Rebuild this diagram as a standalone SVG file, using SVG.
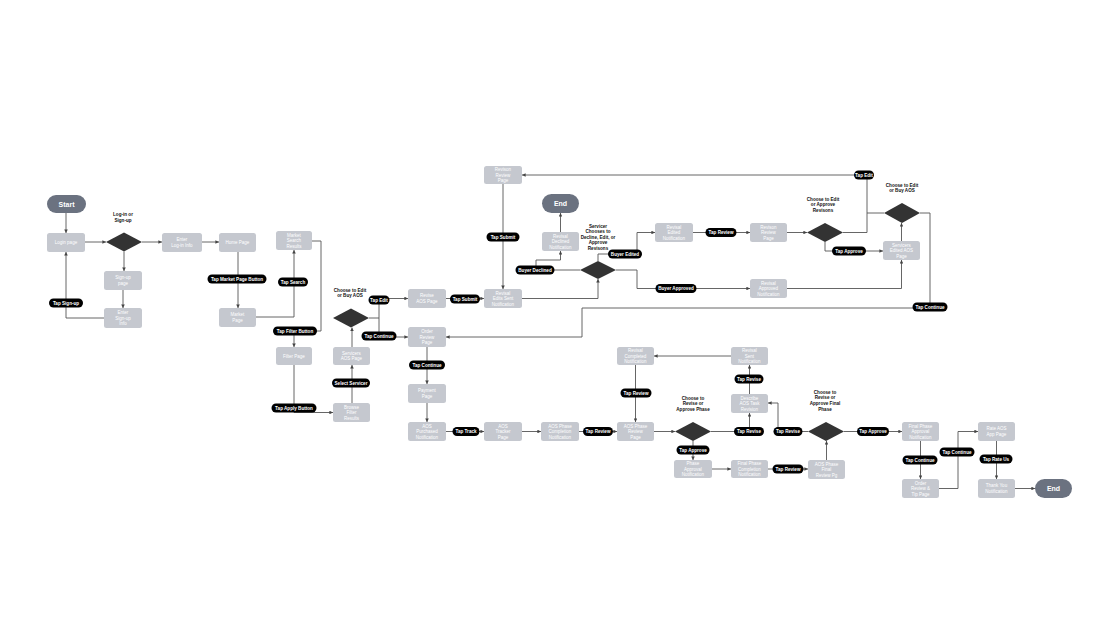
<svg xmlns="http://www.w3.org/2000/svg" width="1120" height="640" viewBox="0 0 1120 640">
<defs>
<marker id="a" viewBox="0 0 6 6" refX="6" refY="3" markerWidth="4" markerHeight="4" orient="auto"><path d="M0,0 L6,3 L0,6 z" fill="#444"/></marker>
<style>
.c{fill:none;stroke:#555;stroke-width:0.9;marker-end:url(#a)}
.cn{fill:none;stroke:#555;stroke-width:0.9}
.n{fill:#c5c8cf;rx:2.5}
.nt{fill:#fff;font-family:"Liberation Sans",Arial,sans-serif;font-size:4.5px;text-anchor:middle}
.p{fill:#000}
.pt{fill:#fff;font-family:"Liberation Sans",Arial,sans-serif;font-size:4.6px;font-weight:bold;text-anchor:middle}
.d{fill:#333}
.lb{fill:#111;font-family:"Liberation Sans",Arial,sans-serif;font-size:4.6px;font-weight:bold;text-anchor:middle}
.t{fill:#6b7280}
.tt{fill:#fff;font-family:"Liberation Sans",Arial,sans-serif;font-size:7px;font-weight:bold;text-anchor:middle}
</style>
</defs>
<rect width="1120" height="640" fill="#fff"/>
<g id="connectors">
<path class="c" d="M66 213 V233"/>
<path class="c" d="M85 242 H106"/>
<path class="c" d="M142 242 H162"/>
<path class="c" d="M124 251.5 V271"/>
<path class="c" d="M123 290 V308"/>
<path class="c" d="M104 318 H66 V252"/>
<path class="c" d="M202 242 H219"/>
<path class="c" d="M238 252 V308"/>
<path class="c" d="M256 317 H294 V250"/>
<path class="c" d="M312 241 H321 V331 H294 V347"/>
<path class="c" d="M294 365 V412.5 H333"/>
<path class="c" d="M352 403 V365"/>
<path class="c" d="M352 347 V327.5"/>
<path class="c" d="M369 318 H379 V298.5 H408"/>
<path class="c" d="M379 318 V337 H408"/>
<path class="c" d="M446 298.5 H484"/>
<path class="c" d="M503 184 V289"/>
<path class="c" d="M522 298.5 H598 V279"/>
<path class="c" d="M580 270 H536 V260 H560.5 V251"/>
<path class="c" d="M560.5 232 V213"/>
<path class="c" d="M598 261 V254 H637 V232.5 H655"/>
<path class="c" d="M616 270 H637 V288.5 H750"/>
<path class="c" d="M693 232.5 H750"/>
<path class="c" d="M787 232.5 H807"/>
<path class="c" d="M843 232.5 H867 V175 H522"/>
<path class="cn" d="M884 213 H867"/>
<path class="c" d="M825 242 V251 H883"/>
<path class="c" d="M787 288.5 H901.5 V260"/>
<path class="c" d="M901.5 241 V223"/>
<path class="c" d="M920 213 H930 V308 H582 V337 H446"/>
<path class="c" d="M427 347 V384"/>
<path class="c" d="M427 403 V422"/>
<path class="c" d="M446 431.5 H484"/>
<path class="c" d="M522 431.5 H541"/>
<path class="c" d="M579 431.5 H617"/>
<path class="c" d="M654 431.5 H675"/>
<path class="c" d="M693 441 V460"/>
<path class="c" d="M712 469 H731"/>
<path class="c" d="M768 469 H808"/>
<path class="c" d="M826.5 460 V441"/>
<path class="c" d="M808 431.5 H778 V403 H768"/>
<path class="c" d="M711 431.5 H749.5 V413"/>
<path class="c" d="M749.5 394 V365"/>
<path class="c" d="M731 356 H654"/>
<path class="c" d="M635.5 365 V422"/>
<path class="c" d="M844 431.5 H902"/>
<path class="c" d="M920.5 441 V479"/>
<path class="c" d="M939 488.5 H958 V431.5 H978"/>
<path class="c" d="M996.5 441 V479"/>
<path class="c" d="M1015 488.5 H1035"/>
</g>
<g id="start"><rect class="t" x="47" y="195" width="39" height="18" rx="9"/><text class="tt" x="66.5" y="206.5">Start</text></g>
<g id="end1"><rect class="t" x="542" y="194" width="37" height="19" rx="9.5"/><text class="tt" x="560.5" y="206">End</text></g>
<g id="end2"><rect class="t" x="1035" y="479" width="37" height="19" rx="9.5"/><text class="tt" x="1053.5" y="491">End</text></g>

<g id="login"><rect class="n" x="47" y="233" width="38" height="19"/><text class="nt" x="66" y="244.1">Login page</text></g>
<g id="enterlogin"><rect class="n" x="162" y="233" width="40" height="19"/><text class="nt"><tspan x="182" y="241.3">Enter</tspan><tspan x="182" y="246.9">Log-in Info</tspan></text></g>
<g id="signup"><rect class="n" x="104" y="271" width="38" height="19"/><text class="nt"><tspan x="123" y="279.3">Sign-up</tspan><tspan x="123" y="284.9">page</tspan></text></g>
<g id="entersignup"><rect class="n" x="104" y="308" width="38" height="20"/><text class="nt"><tspan x="123" y="314">Enter</tspan><tspan x="123" y="319.6">Sign-up</tspan><tspan x="123" y="325.2">Info</tspan></text></g>
<g id="home"><rect class="n" x="219" y="233" width="37" height="19"/><text class="nt" x="237.5" y="244.1">Home Page</text></g>
<g id="marketsearch"><rect class="n" x="276" y="231" width="36" height="19"/><text class="nt"><tspan x="294" y="236.5">Market</tspan><tspan x="294" y="242.1">Search</tspan><tspan x="294" y="247.7">Results</tspan></text></g>
<g id="market"><rect class="n" x="219" y="308" width="37" height="19"/><text class="nt"><tspan x="237.5" y="316.3">Market</tspan><tspan x="237.5" y="321.9">Page</tspan></text></g>
<g id="filter"><rect class="n" x="276" y="347" width="36" height="18"/><text class="nt" x="294" y="357.6">Filter Page</text></g>
<g id="browse"><rect class="n" x="333" y="403" width="37" height="19"/><text class="nt"><tspan x="351.5" y="408.5">Browse</tspan><tspan x="351.5" y="414.1">Filter</tspan><tspan x="351.5" y="419.7">Results</tspan></text></g>
<g id="servicers"><rect class="n" x="333" y="347" width="37" height="18"/><text class="nt"><tspan x="351.5" y="354.8">Servicers</tspan><tspan x="351.5" y="360.4">AOS Page</tspan></text></g>
<g id="reviseaos"><rect class="n" x="408" y="289" width="38" height="19"/><text class="nt"><tspan x="427" y="297.3">Revise</tspan><tspan x="427" y="302.9">AOS Page</tspan></text></g>
<g id="orderreview"><rect class="n" x="408" y="327" width="38" height="20"/><text class="nt"><tspan x="427" y="333">Order</tspan><tspan x="427" y="338.6">Review</tspan><tspan x="427" y="344.2">Page</tspan></text></g>
<g id="payment"><rect class="n" x="408" y="384" width="38" height="19"/><text class="nt"><tspan x="427" y="392.3">Payment</tspan><tspan x="427" y="397.9">Page</tspan></text></g>
<g id="purchased"><rect class="n" x="408" y="422" width="38" height="19"/><text class="nt"><tspan x="427" y="427.5">AOS</tspan><tspan x="427" y="433.1">Purchased</tspan><tspan x="427" y="438.7">Notification</tspan></text></g>
<g id="tracker"><rect class="n" x="484" y="422" width="38" height="19"/><text class="nt"><tspan x="503" y="427.5">AOS</tspan><tspan x="503" y="433.1">Tracker</tspan><tspan x="503" y="438.7">Page</tspan></text></g>
<g id="phasecomp"><rect class="n" x="541" y="422" width="38" height="19"/><text class="nt"><tspan x="560" y="427.5">AOS Phase</tspan><tspan x="560" y="433.1">Completion</tspan><tspan x="560" y="438.7">Notification</tspan></text></g>
<g id="phasereview"><rect class="n" x="617" y="422" width="37" height="19"/><text class="nt"><tspan x="635.5" y="427.5">AOS Phase</tspan><tspan x="635.5" y="433.1">Review</tspan><tspan x="635.5" y="438.7">Page</tspan></text></g>
<g id="revcompleted"><rect class="n" x="617" y="347" width="37" height="18"/><text class="nt"><tspan x="635.5" y="352">Revisal</tspan><tspan x="635.5" y="357.6">Completed</tspan><tspan x="635.5" y="363.2">Notification</tspan></text></g>
<g id="revsent"><rect class="n" x="731" y="347" width="37" height="18"/><text class="nt"><tspan x="749.5" y="352">Revisal</tspan><tspan x="749.5" y="357.6">Sent</tspan><tspan x="749.5" y="363.2">Notification</tspan></text></g>
<g id="describe"><rect class="n" x="731" y="394" width="37" height="19"/><text class="nt"><tspan x="749.5" y="399.5">Describe</tspan><tspan x="749.5" y="405.1">AOS Task</tspan><tspan x="749.5" y="410.7">Revision</tspan></text></g>
<g id="phaseapproval"><rect class="n" x="674" y="460" width="38" height="18"/><text class="nt"><tspan x="693" y="465">Phase</tspan><tspan x="693" y="470.6">Approval</tspan><tspan x="693" y="476.2">Notification</tspan></text></g>
<g id="finalcomp"><rect class="n" x="731" y="460" width="37" height="18"/><text class="nt"><tspan x="749.5" y="465">Final Phase</tspan><tspan x="749.5" y="470.6">Completion</tspan><tspan x="749.5" y="476.2">Notification</tspan></text></g>
<g id="finalreview"><rect class="n" x="808" y="460" width="37" height="19"/><text class="nt"><tspan x="826.5" y="465.5">AOS Phase</tspan><tspan x="826.5" y="471.1">Final</tspan><tspan x="826.5" y="476.7">Review Pg</tspan></text></g>
<g id="finalapproval"><rect class="n" x="902" y="422" width="37" height="19"/><text class="nt"><tspan x="920.5" y="427.5">Final Phase</tspan><tspan x="920.5" y="433.1">Approval</tspan><tspan x="920.5" y="438.7">Notification</tspan></text></g>
<g id="ordertip"><rect class="n" x="902" y="479" width="37" height="19"/><text class="nt"><tspan x="920.5" y="484.5">Order</tspan><tspan x="920.5" y="490.1">Review &amp;</tspan><tspan x="920.5" y="495.7">Tip Page</tspan></text></g>
<g id="rate"><rect class="n" x="978" y="422" width="37" height="19"/><text class="nt"><tspan x="996.5" y="430.3">Rate AOS</tspan><tspan x="996.5" y="435.9">App Page</tspan></text></g>
<g id="thankyou"><rect class="n" x="978" y="479" width="37" height="19"/><text class="nt"><tspan x="996.5" y="487.3">Thank You</tspan><tspan x="996.5" y="492.9">Notification</tspan></text></g>
<g id="revreview1"><rect class="n" x="484" y="166" width="38" height="18"/><text class="nt"><tspan x="503" y="171">Revison</tspan><tspan x="503" y="176.6">Review</tspan><tspan x="503" y="182.2">Page</tspan></text></g>
<g id="editsent"><rect class="n" x="484" y="289" width="38" height="19"/><text class="nt"><tspan x="503" y="294.5">Revisal</tspan><tspan x="503" y="300.1">Edits Sent</tspan><tspan x="503" y="305.7">Notification</tspan></text></g>
<g id="declined"><rect class="n" x="542" y="232" width="37" height="19"/><text class="nt"><tspan x="560.5" y="237.5">Revisal</tspan><tspan x="560.5" y="243.1">Declined</tspan><tspan x="560.5" y="248.7">Notification</tspan></text></g>
<g id="edited"><rect class="n" x="655" y="223" width="38" height="19"/><text class="nt"><tspan x="674" y="228.5">Revisal</tspan><tspan x="674" y="234.1">Edited</tspan><tspan x="674" y="239.7">Notification</tspan></text></g>
<g id="revreview2"><rect class="n" x="750" y="223" width="37" height="19"/><text class="nt"><tspan x="768.5" y="228.5">Revison</tspan><tspan x="768.5" y="234.1">Review</tspan><tspan x="768.5" y="239.7">Page</tspan></text></g>
<g id="approvednot"><rect class="n" x="750" y="279" width="37" height="19"/><text class="nt"><tspan x="768.5" y="284.5">Revisal</tspan><tspan x="768.5" y="290.1">Approved</tspan><tspan x="768.5" y="295.7">Notification</tspan></text></g>
<g id="servedited"><rect class="n" x="883" y="241" width="37" height="19"/><text class="nt"><tspan x="901.5" y="246.5">Servicers</tspan><tspan x="901.5" y="252.1">Edited AOS</tspan><tspan x="901.5" y="257.7">Page</tspan></text></g>

<g id="d1"><path class="d" d="M106 242 L124 232.5 L142 242 L124 251.5 Z"/><text class="lb"><tspan x="123" y="216">Log-in or</tspan><tspan x="123" y="221.6">Sign-up</tspan></text></g>
<g id="d2"><path class="d" d="M333 318 L351 308.5 L369 318 L351 327.5 Z"/><text class="lb"><tspan x="350" y="291.5">Choose to Edit</tspan><tspan x="350" y="297.1">or Buy AOS</tspan></text></g>
<g id="d3"><path class="d" d="M675 431.5 L693 422 L711 431.5 L693 441 Z"/><text class="lb"><tspan x="693" y="399.8">Choose to</tspan><tspan x="693" y="405.4">Revise or</tspan><tspan x="693" y="411">Approve Phase</tspan></text></g>
<g id="d4"><path class="d" d="M808 431.5 L826 422 L844 431.5 L826 441 Z"/><text class="lb"><tspan x="825" y="393.8">Choose to</tspan><tspan x="825" y="399.4">Revise or</tspan><tspan x="825" y="405">Approve Final</tspan><tspan x="825" y="410.6">Phase</tspan></text></g>
<g id="d5"><path class="d" d="M580 270 L598 261 L616 270 L598 279 Z"/><text class="lb"><tspan x="598" y="227.6">Servicer</tspan><tspan x="598" y="233.1">Chooses to</tspan><tspan x="598" y="238.6">Decline, Edit, or</tspan><tspan x="598" y="244.1">Approve</tspan><tspan x="598" y="249.6">Revisons</tspan></text></g>
<g id="d6"><path class="d" d="M807 232.5 L825 223 L843 232.5 L825 242 Z"/><text class="lb"><tspan x="823" y="200.6">Choose to Edit</tspan><tspan x="823" y="206.2">or Approve</tspan><tspan x="823" y="211.8">Revisons</tspan></text></g>
<g id="d7"><path class="d" d="M884 213 L902 203 L920 213 L902 223 Z"/><text class="lb"><tspan x="902" y="186.6">Choose to Edit</tspan><tspan x="902" y="192.2">or Buy AOS</tspan></text></g>

<g id="p-signup"><rect class="p" x="49" y="298.5" width="34" height="9" rx="4.5"/><text class="pt" x="66" y="304.7">Tap Sign-up</text></g>
<g id="p-market"><rect class="p" x="207.5" y="274.5" width="59" height="9" rx="4.5"/><text class="pt" x="237" y="280.7">Tap Market Page Button</text></g>
<g id="p-search"><rect class="p" x="278" y="277.5" width="30" height="9" rx="4.5"/><text class="pt" x="293" y="283.7">Tap Search</text></g>
<g id="p-filter"><rect class="p" x="273" y="326.5" width="44" height="9" rx="4.5"/><text class="pt" x="295" y="332.7">Tap Filter Button</text></g>
<g id="p-apply"><rect class="p" x="271.5" y="403.5" width="45" height="9" rx="4.5"/><text class="pt" x="294" y="409.7">Tap Apply Button</text></g>
<g id="p-select"><rect class="p" x="332" y="378.5" width="38" height="9" rx="4.5"/><text class="pt" x="351" y="384.7">Select Servicer</text></g>
<g id="p-edit1"><rect class="p" x="368.5" y="295.5" width="21" height="9" rx="4.5"/><text class="pt" x="379" y="301.7">Tap Edit</text></g>
<g id="p-cont1"><rect class="p" x="361.5" y="331.5" width="35" height="9" rx="4.5"/><text class="pt" x="379" y="337.7">Tap Continue</text></g>
<g id="p-submit1"><rect class="p" x="450" y="294.5" width="30" height="9" rx="4.5"/><text class="pt" x="465" y="300.7">Tap Submit</text></g>
<g id="p-cont2"><rect class="p" x="409" y="360.5" width="36" height="9" rx="4.5"/><text class="pt" x="427" y="366.7">Tap Continue</text></g>
<g id="p-track"><rect class="p" x="452.5" y="427" width="27" height="9" rx="4.5"/><text class="pt" x="466" y="433.2">Tap Track</text></g>
<g id="p-review1"><rect class="p" x="583" y="427" width="30" height="9" rx="4.5"/><text class="pt" x="598" y="433.2">Tap Review</text></g>
<g id="p-review2"><rect class="p" x="620.5" y="388.5" width="31" height="9" rx="4.5"/><text class="pt" x="636" y="394.7">Tap Review</text></g>
<g id="p-approve1"><rect class="p" x="676.5" y="445.5" width="33" height="9" rx="4.5"/><text class="pt" x="693" y="451.7">Tap Approve</text></g>
<g id="p-revise1"><rect class="p" x="734" y="427" width="30" height="9" rx="4.5"/><text class="pt" x="749" y="433.2">Tap Revise</text></g>
<g id="p-revise2"><rect class="p" x="734.5" y="374.5" width="29" height="9" rx="4.5"/><text class="pt" x="749" y="380.7">Tap Revise</text></g>
<g id="p-revise3"><rect class="p" x="773.5" y="427" width="29" height="9" rx="4.5"/><text class="pt" x="788" y="433.2">Tap Revise</text></g>
<g id="p-review3"><rect class="p" x="772.5" y="464.5" width="31" height="9" rx="4.5"/><text class="pt" x="788" y="470.7">Tap Review</text></g>
<g id="p-approve2"><rect class="p" x="857" y="427" width="32" height="9" rx="4.5"/><text class="pt" x="873" y="433.2">Tap Approve</text></g>
<g id="p-cont3"><rect class="p" x="902.5" y="455.5" width="35" height="9" rx="4.5"/><text class="pt" x="920" y="461.7">Tap Continue</text></g>
<g id="p-cont4"><rect class="p" x="939.5" y="447.5" width="35" height="9" rx="4.5"/><text class="pt" x="957" y="453.7">Tap Continue</text></g>
<g id="p-rate"><rect class="p" x="979.5" y="454.5" width="33" height="9" rx="4.5"/><text class="pt" x="996" y="460.7">Tap Rate Us</text></g>
<g id="p-submit2"><rect class="p" x="486.5" y="232.5" width="33" height="9" rx="4.5"/><text class="pt" x="503" y="238.7">Tap Submit</text></g>
<g id="p-declined"><rect class="p" x="515.5" y="265.5" width="39" height="9" rx="4.5"/><text class="pt" x="535" y="271.7">Buyer Declined</text></g>
<g id="p-edited"><rect class="p" x="608" y="249.5" width="34" height="9" rx="4.5"/><text class="pt" x="625" y="255.7">Buyer Edited</text></g>
<g id="p-review4"><rect class="p" x="705.5" y="228" width="31" height="9" rx="4.5"/><text class="pt" x="721" y="234.2">Tap Review</text></g>
<g id="p-approved"><rect class="p" x="655.5" y="284" width="41" height="9" rx="4.5"/><text class="pt" x="676" y="290.2">Buyer Approved</text></g>
<g id="p-edit2"><rect class="p" x="854" y="170.5" width="20" height="9" rx="4.5"/><text class="pt" x="864" y="176.7">Tap Edit</text></g>
<g id="p-approve3"><rect class="p" x="832" y="246.5" width="34" height="9" rx="4.5"/><text class="pt" x="849" y="252.7">Tap Approve</text></g>
<g id="p-cont5"><rect class="p" x="912.5" y="302.5" width="35" height="9" rx="4.5"/><text class="pt" x="930" y="308.7">Tap Continue</text></g>
</svg>
